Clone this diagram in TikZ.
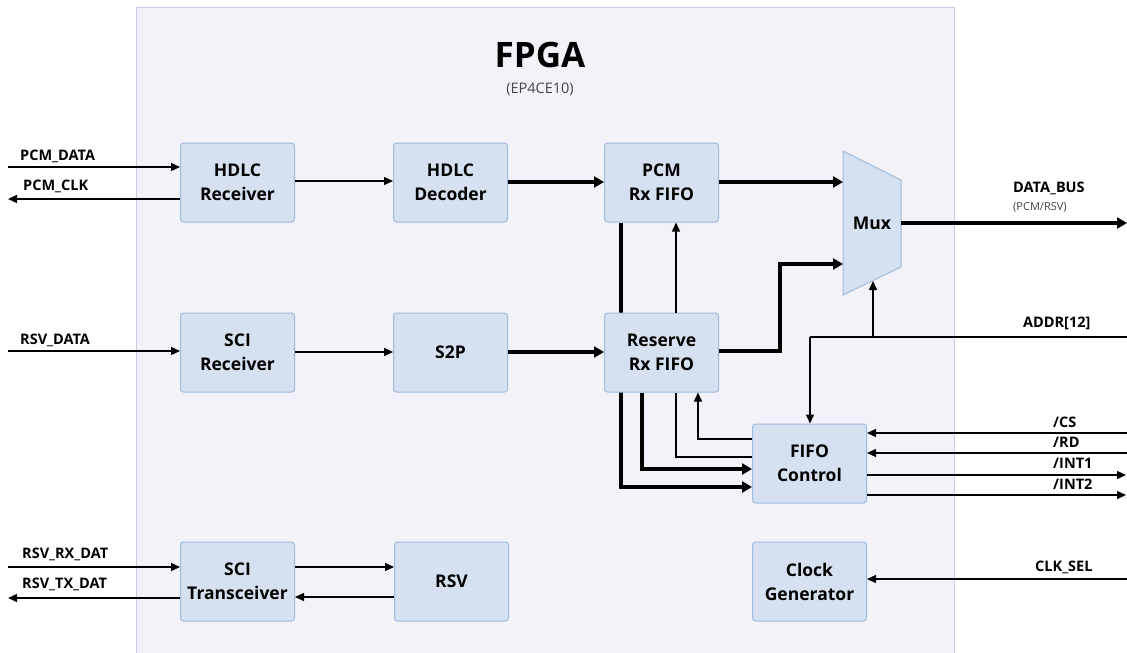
\documentclass[tikz,border=0pt]{standalone}
\usepackage{fontspec}
\setmainfont{Open Sans}
\usetikzlibrary{arrows.meta}
\definecolor{fpgabg}{HTML}{F3F2F8}
\definecolor{fpgaln}{HTML}{CDC8E0}
\definecolor{blkfill}{HTML}{D5E1F0}
\definecolor{blkline}{HTML}{9DBBDF}
\definecolor{subgray}{HTML}{444444}
\tikzset{
  blk/.style={draw=blkline, fill=blkfill, line width=1pt, rounded corners=3pt,
    minimum width=114pt, minimum height=79pt, align=center, inner sep=0pt,
    font=\fontsize{17.5}{24}\selectfont\bfseries},
  thin/.style={line width=1.4pt, -{Triangle[length=9pt,width=8pt]}},
  thinnt/.style={line width=1.4pt},
  thick/.style={line width=3.6pt, -{Triangle[length=10pt,width=11pt]}},
  thicknt/.style={line width=3.6pt},
  sig/.style={font=\fontsize{14.5}{16}\selectfont\bfseries, anchor=west, inner sep=0pt},
}
\begin{document}
\begin{tikzpicture}[x=1pt,y=-1pt]
\useasboundingbox (0,0) rectangle (1127,653);
% FPGA background
\draw[fill=fpgabg, draw=fpgaln, line width=1pt] (136,7) rectangle (954,660);
\node[font=\fontsize{35}{40}\selectfont\bfseries] (ttl) at (540,55) {FPGA};
\node[font=\fontsize{14.5}{16}\selectfont, text=subgray] (sub) at (540,89) {(EP4CE10)};

% free ends
\coordinate (pcmdata) at (8,167);
\coordinate (pcmclk) at (8,199);
\coordinate (rsvdata) at (8,351);
\coordinate (rsvrx) at (8,567);
\coordinate (rsvtx) at (8,598);
\coordinate (databus) at (1127,223);
\coordinate (addr) at (1127,337);
\coordinate (addrj) at (810,337);
\coordinate (addrm) at (873,337);
\coordinate (cs) at (1127,433);
\coordinate (rd) at (1127,453);
\coordinate (int1) at (1126,475);
\coordinate (int2) at (1126,495);
\coordinate (clksel) at (1127,579);

% Mux coordinates
\coordinate (muxA) at (843,151);
\coordinate (muxB) at (901,180);
\coordinate (muxC) at (901,267);
\coordinate (muxD) at (843,295);
\coordinate (muxin1) at (843,182);
\coordinate (muxin2) at (843,264);
\coordinate (muxsel) at (873,281);
\coordinate (muxout) at (901,223);

% lines behind blocks
\draw[thick] (621,223) -- (621,487) -- (752,487);

% Blocks
\node[blk] (hrx) at (237.5,182.5) {HDLC\\Receiver};
\node[blk] (hdec) at (450.5,182.5) {HDLC\\Decoder};
\node[blk] (prx) at (661.5,182.5) {PCM\\Rx FIFO};
\node[blk] (srx) at (237.5,352.5) {SCI\\Receiver};
\node[blk] (s2p) at (450.5,352.5) {S2P};
\node[blk] (rrx) at (661.5,352.5) {Reserve\\Rx FIFO};
\node[blk] (fctl) at (809.5,463.5) {FIFO\\Control};
\node[blk] (stx) at (237.5,581.5) {SCI\\Transceiver};
\node[blk] (rsv) at (451.5,581.5) {RSV};
\node[blk] (clk) at (809.5,581.5) {Clock\\Generator};
\draw[draw=blkline, fill=blkfill, line width=1pt] (muxA) -- (muxB) -- (muxC) -- (muxD) -- cycle;
\node[font=\fontsize{17.5}{24}\selectfont\bfseries] (mux) at (872,223) {Mux};

% Left signals
\draw[thin] (pcmdata) -- (hrx.west |- pcmdata);
\draw[thin] (hrx.west |- pcmclk) -- (pcmclk);
\draw[thin] (rsvdata) -- (srx.west |- rsvdata);
\draw[thin] (rsvrx) -- (stx.west |- rsvrx);
\draw[thin] (stx.west |- rsvtx) -- (rsvtx);
\node[sig] (lpcmdata) at (20,156) {PCM\_DATA};
\node[sig] (lpcmclk) at (23,186) {PCM\_CLK};
\node[sig] (lrsvdata) at (20,340) {RSV\_DATA};
\node[sig] (lrsvrx) at (22,554) {RSV\_RX\_DAT};
\node[sig] (lrsvtx) at (22,584) {RSV\_TX\_DAT};

% internal
\draw[thin] (hrx.east |- 0,181) -- (hdec.west |- 0,181);
\draw[thick] (hdec.east |- 0,182) -- (prx.west |- 0,182);
\draw[thick] (prx.east |- muxin1) -- (muxin1);
\draw[thin] (srx.east |- 0,352) -- (s2p.west |- 0,352);
\draw[thick] (s2p.east |- 0,352) -- (rrx.west |- 0,352);
\draw[thick] (rrx.east |- 0,351) -- (780,351) -- (780,264) -- (muxin2);
\draw[thick] (muxout) -- (databus);
\draw[thin] (rrx.north -| 676,0) -- (prx.south -| 676,0);
\draw[thick] (rrx.south -| 642,0) -- (642,469) -- (fctl.west |- 0,469);
\draw[thinnt] (rrx.south -| 676,0) -- (676,457) -- (fctl.west |- 0,457);
\draw[thin] (fctl.west |- 0,439) -- (698,439) -- (rrx.south -| 698,0);
\draw[thinnt] (addr) -- (addrj);
\draw[thin] (addrj) -- (fctl.north -| addrj);
\draw[thin] (addrm) -- (muxsel);
\draw[thin] (stx.east |- rsvrx) -- (rsv.west |- rsvrx);
\draw[thin] (rsv.west |- 0,597) -- (stx.east |- 0,597);

% right signals
\draw[thin] (cs) -- (fctl.east |- cs);
\draw[thin] (rd) -- (fctl.east |- rd);
\draw[thin] (fctl.east |- int1) -- (int1);
\draw[thin] (fctl.east |- int2) -- (int2);
\draw[thin] (clksel) -- (clk.east |- clksel);
\node[sig] (ldb) at (1013,188) {DATA\_BUS};
\node[sig, font=\fontsize{11}{12}\selectfont, text=subgray] (ldb2) at (1013,207) {(PCM/RSV)};
\node[sig] (laddr) at (1023,323) {ADDR[12]};
\node[sig] (lcs) at (1053,422) {/CS};
\node[sig] (lrd) at (1053,442) {/RD};
\node[sig] (lint1) at (1053,463) {/INT1};
\node[sig] (lint2) at (1053,484) {/INT2};
\node[sig] (lclk) at (1035,567) {CLK\_SEL};
\end{tikzpicture}
\end{document}
